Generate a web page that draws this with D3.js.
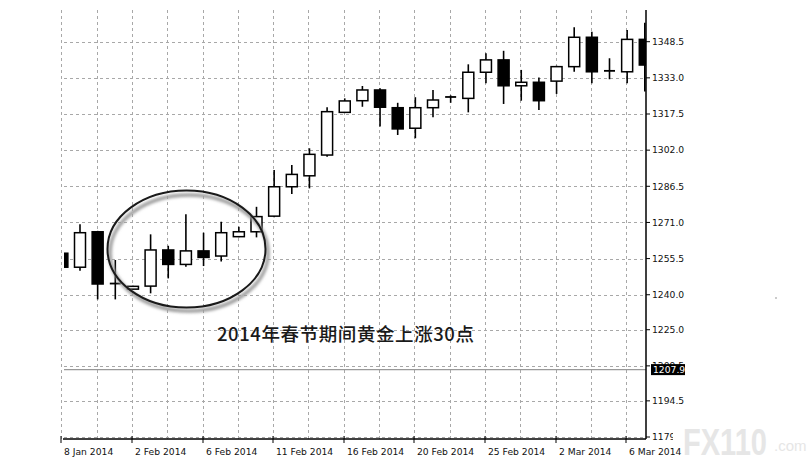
<!DOCTYPE html>
<html><head><meta charset="utf-8">
<script src="https://cdn.jsdelivr.net/npm/d3@7"></script>
<style>html,body{margin:0;padding:0;background:#fff;overflow:hidden}</style>
</head><body>
<svg id="c" width="807" height="463"></svg>
<script>
const openV  = [1257.8,1251.8,1267.0,1244.8,1242.4,1243.7,1259.2,1253.0,1258.8,1256.6,1264.9,1267.0,1273.7,1286.3,1291.0,1299.9,1318.2,1323.2,1327.8,1320.2,1311.4,1320.2,1324.8,1324.2,1335.4,1340.7,1329.6,1331.1,1331.6,1337.8,1350.4,1336.0,1335.6,1349.5];
const highV  = [1258.3,1270.2,1267.4,1254.9,1243.9,1265.9,1261.0,1274.5,1266.6,1271.3,1269.2,1277.7,1293.5,1295.6,1302.8,1320.4,1324.2,1329.5,1328.5,1322.3,1324.7,1327.8,1325.5,1338.8,1343.5,1344.6,1336.4,1333.2,1338.2,1354.7,1352.8,1341.4,1353.5,1356.6];
const lowV   = [1251.3,1250.3,1238.0,1238.0,1242.0,1240.6,1247.0,1252.0,1252.3,1254.2,1264.6,1264.6,1273.2,1283.2,1285.6,1299.2,1318.0,1320.6,1312.1,1308.5,1307.1,1316.1,1322.3,1318.2,1330.7,1321.8,1323.2,1319.2,1326.1,1335.6,1330.7,1332.4,1330.7,1327.1];
const closeV = [1251.8,1266.6,1244.6,1244.4,1243.6,1259.2,1253.0,1258.8,1256.0,1266.6,1267.0,1273.5,1286.3,1291.6,1300.2,1318.5,1323.1,1327.8,1320.4,1311.1,1320.2,1323.5,1324.6,1335.4,1340.7,1329.6,1331.1,1323.2,1337.8,1350.4,1335.6,1335.8,1349.5,1338.5];
const yTicks = [1348.5,1333.0,1317.5,1302.0,1286.5,1271.0,1255.5,1240.0,1225.0,1209.5,1194.5,1179.0];
const dateLabels = ["8 Jan 2014","2 Feb 2014","6 Feb 2014","11 Feb 2014","16 Feb 2014","20 Feb 2014","25 Feb 2014","2 Mar 2014","6 Mar 2014"];
const dateIdx = [0,4,8,12,16,20,24,28,32];
const lastPrice = 1207.9;
const noteText = "2014年春节期间黄金上涨30点";

const svg = d3.select("#c");
const pLeft = 64, pRight = 646, pTop = 10, pBottom = 439;
const x = d3.scaleLinear().domain([0, 33]).range([62.35, 644.8]);
const y = d3.scaleLinear().domain([1179, 1348.5]).range([437, 41.7]);
const font = "'DejaVu Sans', Tahoma, sans-serif";

const defs = svg.append("defs");
defs.append("clipPath").attr("id","clip")
  .append("rect").attr("x",pLeft).attr("y",0).attr("width",pRight-pLeft).attr("height",pBottom);
defs.append("clipPath").attr("id","lblclip")
  .append("rect").attr("x",640).attr("y",420).attr("width",33).attr("height",30);
defs.append("filter").attr("id","blur").append("feGaussianBlur").attr("stdDeviation",1.6);

// grid
const grid = svg.append("g").attr("stroke","#a8a8a8").attr("stroke-width",1).attr("stroke-dasharray","3,3");
yTicks.forEach(t => grid.append("line").attr("x1",pLeft).attr("x2",pRight).attr("y1",Math.round(y(t))+0.5).attr("y2",Math.round(y(t))+0.5));
d3.range(0, 34, 2).forEach(i => grid.append("line").attr("x1",Math.round(x(i))-0.5).attr("x2",Math.round(x(i))-0.5).attr("y1",pTop).attr("y2",pBottom));

// last price line
svg.append("line").attr("x1",pLeft).attr("x2",pRight).attr("y1",y(lastPrice)).attr("y2",y(lastPrice))
  .attr("stroke","#999").attr("stroke-width",1.2);

// candles
const data = openV.map((o,i)=>({i,o,h:highV[i],l:lowV[i],c:closeV[i]}));
const cg = svg.append("g").attr("clip-path","url(#clip)");
const bw = 11;
data.forEach(d => {
  const cx = x(d.i);
  cg.append("line").attr("x1",cx).attr("x2",cx).attr("y1",y(d.h)).attr("y2",y(d.l)).attr("stroke","#000").attr("stroke-width",1.6);
  if (Math.abs(d.o-d.c) < 0.5) {
    cg.append("line").attr("x1",cx-bw/2).attr("x2",cx+bw/2).attr("y1",y(d.o)).attr("y2",y(d.o)).attr("stroke","#000").attr("stroke-width",1.8);
  } else {
    const up = d.c > d.o;
    const yt = y(Math.max(d.o,d.c)), yb = y(Math.min(d.o,d.c));
    cg.append("rect").attr("x",cx-bw/2).attr("y",yt).attr("width",bw).attr("height",Math.max(2,yb-yt))
      .attr("fill", up ? "#fff" : "#000").attr("stroke","#000").attr("stroke-width",1.5);
  }
});

// axes
svg.append("line").attr("x1",pLeft-1).attr("x2",pRight).attr("y1",pBottom).attr("y2",pBottom).attr("stroke","#000").attr("stroke-width",1.5);
svg.append("line").attr("x1",pRight).attr("x2",pRight).attr("y1",pTop).attr("y2",pBottom).attr("stroke","#000").attr("stroke-width",1.5);

yTicks.forEach((t,k) => {
  svg.append("line").attr("x1",pRight).attr("x2",pRight+4).attr("y1",y(t)).attr("y2",y(t)).attr("stroke","#000");
  const tx = svg.append("text").attr("x",652).attr("y",y(t)).attr("dy","0.35em").attr("font-family",font).attr("font-size",9.2).attr("fill","#111")
    .text(t.toFixed(1));
  if (k === yTicks.length - 1) tx.attr("clip-path","url(#lblclip)");
});
// last price tag
svg.append("rect").attr("x",651).attr("y",y(lastPrice)-5.5).attr("width",34).attr("height",11).attr("fill","#000");
svg.append("text").attr("x",653).attr("y",y(lastPrice)).attr("dy","0.35em").attr("font-family",font).attr("font-size",9.2).attr("fill","#fff").text(lastPrice.toFixed(1));

dateIdx.forEach((di,k) => {
  const tx = Math.round(x(di)) - 1;
  svg.append("line").attr("x1",tx).attr("x2",tx).attr("y1",pBottom-3).attr("y2",pBottom+4).attr("stroke","#000");
  svg.append("text").attr("x",tx+3).attr("y",455).attr("font-family",font).attr("font-size",9.2).attr("fill","#111")
    .text(dateLabels[k]);
});

// ellipse annotation
svg.append("ellipse").attr("cx",189).attr("cy",253).attr("rx",79).attr("ry",58)
  .attr("fill","none").attr("stroke","#9a9a9a").attr("stroke-width",3.5).attr("filter","url(#blur)");
svg.append("ellipse").attr("cx",186.5).attr("cy",249).attr("rx",79).attr("ry",58.5)
  .attr("fill","none").attr("stroke","#1a1a1a").attr("stroke-width",2);

svg.append("text").attr("x",217).attr("y",341).attr("font-family","'Noto Sans CJK SC', sans-serif")
  .attr("font-size",18.5).attr("font-weight",500).attr("fill","#1a1a1a").attr("textLength",257).text(noteText);

// watermark
svg.append("text").attr("x",683).attr("y",455).attr("font-family","'Liberation Sans', Arial, sans-serif").attr("font-weight","bold")
  .attr("font-size",36).attr("fill","#e6e6e6").attr("textLength",84).attr("lengthAdjust","spacingAndGlyphs").text("FX110");
svg.append("text").attr("x",774).attr("y",451).attr("font-family","'Liberation Sans', Arial, sans-serif")
  .attr("font-size",15).attr("fill","#e6e6e6").text(".com");
svg.append("circle").attr("cx",776).attr("cy",298).attr("r",0.8).attr("fill","#888");
</script>
</body></html>
